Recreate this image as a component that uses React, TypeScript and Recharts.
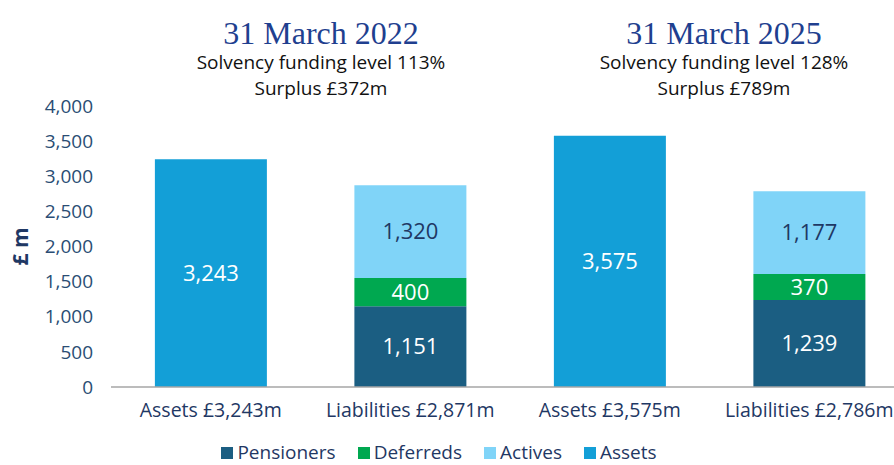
import React from "react";
import { BarChart, Bar, XAxis, YAxis, Legend, LabelList } from "recharts";

const categories = [
  "Assets £3,243m",
  "Liabilities £2,871m",
  "Assets £3,575m",
  "Liabilities £2,786m",
];
const seriesNames = ["Pensioners", "Deferreds", "Actives", "Assets"];
const pensioners = [null, 1151, null, 1239];
const deferreds = [null, 400, null, 370];
const actives = [null, 1320, null, 1177];
const assets = [3243, null, 3575, null];
const yTicks = [0, 500, 1000, 1500, 2000, 2500, 3000, 3500, 4000];

const headings = [
  { title: "31 March 2022", lines: ["Solvency funding level 113%", "Surplus £372m"], cx: 321 },
  { title: "31 March 2025", lines: ["Solvency funding level 128%", "Surplus £789m"], cx: 724 },
];

const NAVY = "#1f3864";
const SANS = "'Open Sans', 'Liberation Sans', sans-serif";

const data = categories.map((name, i) => ({
  name,
  Pensioners: pensioners[i],
  Deferreds: deferreds[i],
  Actives: actives[i],
  Assets: assets[i],
}));

const fmt = (v: any) => (v == null || v === 0 ? "" : Number(v).toLocaleString("en-GB"));

function LegendContent({ payload }: any) {
  const items = [...(payload || [])].sort(
    (a: any, b: any) => seriesNames.indexOf(a.value) - seriesNames.indexOf(b.value)
  );
  return (
    <div style={{ textAlign: "center", fontFamily: SANS, fontSize: 19, lineHeight: "20px", color: NAVY }}>
      {items.map((p: any) => (
        <span key={p.value} style={{ display: "inline-block", marginRight: 22 }}>
          <span
            style={{
              display: "inline-block",
              width: 12,
              height: 12,
              background: p.color,
              marginRight: 4,
            }}
          />
          {p.value}
        </span>
      ))}
    </div>
  );
}

export default function App() {
  return (
    <div
      style={{
        position: "fixed",
        left: 0,
        top: 0,
        width: 894,
        height: 465,
        overflow: "hidden",
        background: "#fff",
      }}
    >
      {headings.map((h) => (
        <div
          key={h.title}
          style={{ position: "absolute", left: h.cx - 200, width: 400, top: 17, textAlign: "center" }}
        >
          <div
            style={{
              fontFamily: "'Liberation Serif', 'DejaVu Serif', serif",
              fontSize: 32,
              lineHeight: "32px",
              color: "#1f3f8f",
            }}
          >
            {h.title}
          </div>
          {h.lines.map((l) => (
            <div key={l} style={{ fontFamily: SANS, fontSize: 19, lineHeight: "26px", color: "#111" }}>
              {l}
            </div>
          ))}
        </div>
      ))}
      <BarChart
        width={920}
        height={484}
        data={data}
        margin={{ top: 106, right: 11, bottom: 22, left: 0 }}
        barCategoryGap="22%"
      >
        <XAxis
          dataKey="name"
          tickLine={false}
          tickMargin={10}
          height={55}
          axisLine={{ stroke: "#a6a6a6", strokeWidth: 1.5 }}
          tick={{ fill: NAVY, fontSize: 19.5, fontFamily: SANS }}
          interval={0}
        />
        <YAxis
          width={111}
          domain={[0, 4000]}
          ticks={yTicks}
          axisLine={false}
          tickLine={false}
          tickMargin={12}
          tickFormatter={(v) => v.toLocaleString("en-GB")}
          tick={{ fill: "#2a4d74", fontSize: 19, fontFamily: SANS }}
          label={{
            value: "£ m",
            angle: -90,
            position: "insideLeft",
            offset: 21,
            style: { textAnchor: "middle", fill: NAVY, fontWeight: 700, fontSize: 21, fontFamily: SANS },
          }}
        />
        <Legend verticalAlign="bottom" height={20} content={<LegendContent />} wrapperStyle={{ left: 0, width: 900 }} />
        <Bar dataKey="Pensioners" stackId="a" fill="#1b5e82" isAnimationActive={false}>
          <LabelList dataKey="Pensioners" position="center" formatter={fmt} fill="#fff" fontSize={22} fontFamily={SANS} />
        </Bar>
        <Bar dataKey="Deferreds" stackId="a" fill="#00a850" isAnimationActive={false}>
          <LabelList dataKey="Deferreds" position="center" formatter={fmt} fill="#fff" fontSize={22} fontFamily={SANS} />
        </Bar>
        <Bar dataKey="Actives" stackId="a" fill="#80d4f8" isAnimationActive={false}>
          <LabelList dataKey="Actives" position="center" formatter={fmt} fill={NAVY} fontSize={22} fontFamily={SANS} />
        </Bar>
        <Bar dataKey="Assets" stackId="a" fill="#139fd7" isAnimationActive={false}>
          <LabelList dataKey="Assets" position="center" formatter={fmt} fill="#fff" fontSize={22} fontFamily={SANS} />
        </Bar>
      </BarChart>
    </div>
  );
}
